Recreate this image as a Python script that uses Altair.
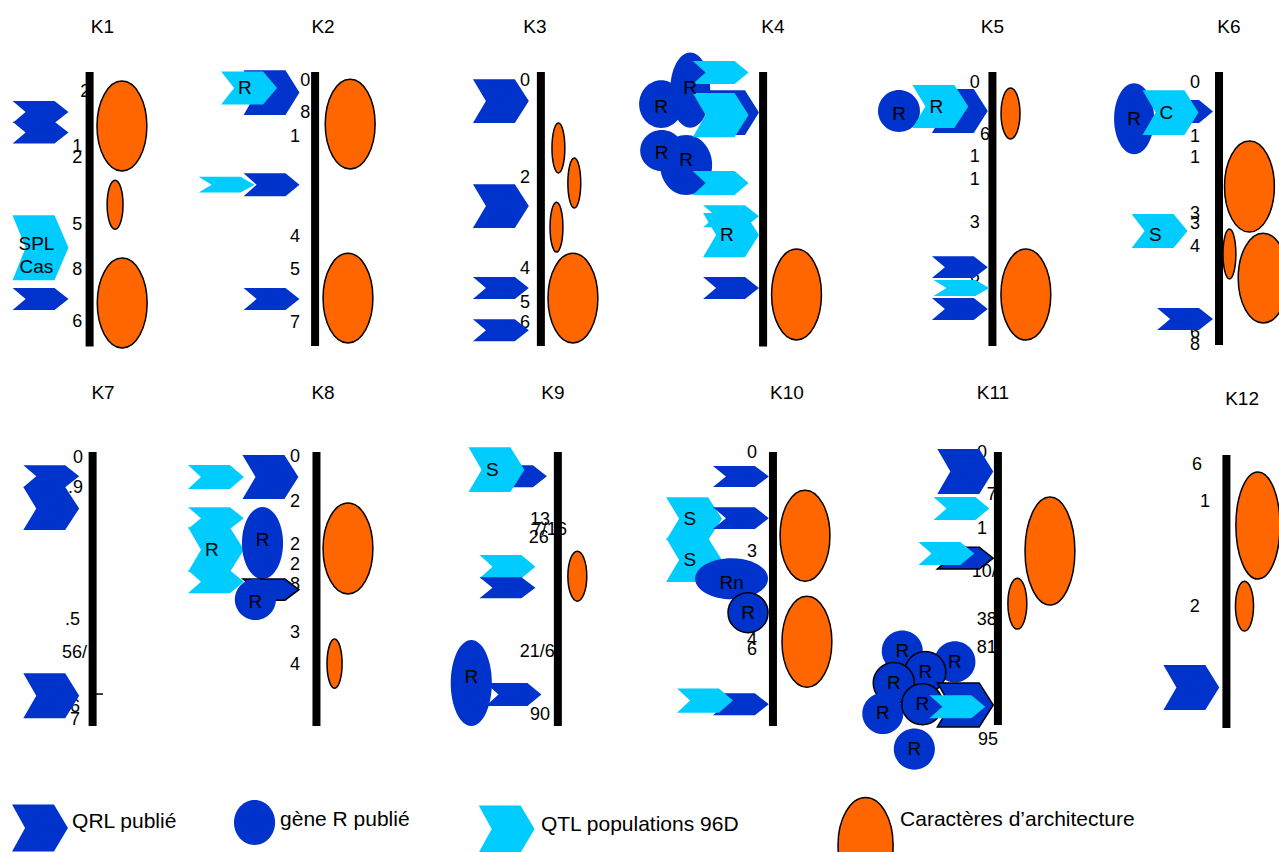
import altair as alt
import pandas as pd

# ---------------------------------------------------------------------------
# Map geometry: positions along a chromosome are in map units (0 = top of the
# bar, 100 = bottom); lateral placement uses the same unit.
# ---------------------------------------------------------------------------
PX = 2.74                      # screen pixels per map unit
CANVAS_W, CANVAS_H = 1279, 852
W_U, H_U = CANVAS_W / PX, CANVAS_H / PX

DARK = "#0033CC"     # QRL publié / gène R publié
LIGHT = "#00CCFF"    # QTL populations 96D
ORANGE = "#FF6600"   # caractères d'architecture
FONT = "Liberation Sans"

PANELS = [f"K{i}" for i in range(1, 13)]
PANEL_ROW = [0, 0, 0, 0, 0, 0, 1, 1, 1, 1, 1, 1]
BAR_X = [32.7, 115.0, 197.4, 278.5, 362.2, 444.9, 33.8, 115.5, 203.6, 282.1, 364.2, 447.6]
BAR_START = [0, 0, 0, 0, 0, 0, 0, 0, 0, 0, 0, 1.1]
BAR_END = [100.2, 100, 100, 100.2, 100, 99.6, 100, 100, 100, 100, 99.6, 100.7]
TITLE_DX = [4.7, 2.9, -2.2, 3.6, 0.0, 3.6, 3.8, 2.4, -1.8, 5.1, -1.8, 5.7]
TITLE_POS = [-16.4] * 6 + [-21.5] * 5 + [-19.3]
ROW_Y = [26.3, 165.0]

CHEVRON_W = 20.4


def feat(panel, kind, pos, dx, span, width=None, label="", outlined=False, label_dy=0.0):
    return dict(panel=panel, kind=kind, pos=pos, dx=dx, span=span,
                width=width, label=label, outlined=outlined, label_dy=label_dy)


# Features of each linkage group, listed in drawing order
FEATURES = [
    # K1
    feat("K1", "QRL", 14.6, -17.9, 8.0),
    feat("K1", "QRL", 22.1, -17.9, 8.0),
    feat("K1", "QTL", 64.1, -17.9, 23.7, label="SPL\nCas", label_dy=-1.5),
    feat("K1", "QRL", 82.8, -17.9, 8.0),
    feat("K1", "ARCH", 19.7, 11.8, 32.8, 18.2),
    feat("K1", "ARCH", 48.4, 9.3, 17.9, 5.8),
    feat("K1", "ARCH", 84.3, 11.9, 32.8, 18.2),
    # K2
    feat("K2", "QRL", 7.5, -15.9, 16.4),
    feat("K2", "QTL", 5.8, -24.1, 12.0, label="R"),
    feat("K2", "QRL", 41.1, -15.9, 8.4),
    feat("K2", "QTL", 41.1, -32.3, 5.8),
    feat("K2", "QRL", 82.8, -15.9, 8.0),
    feat("K2", "ARCH", 19.0, 12.8, 32.8, 18.2),
    feat("K2", "ARCH", 82.5, 12.0, 32.8, 18.2),
    # K3
    feat("K3", "QRL", 10.6, -14.6, 16.0),
    feat("K3", "QRL", 48.9, -14.6, 16.0),
    feat("K3", "QRL", 78.8, -14.6, 8.0),
    feat("K3", "QRL", 94.2, -14.6, 8.0),
    feat("K3", "ARCH", 27.7, 6.4, 18.2, 4.7),
    feat("K3", "ARCH", 40.5, 12.2, 18.2, 4.7),
    feat("K3", "ARCH", 56.6, 5.7, 18.2, 4.7),
    feat("K3", "ARCH", 82.5, 11.7, 32.8, 18.2),
    # K4
    feat("K4", "R", 6.6, -26.6, 27.4, 14.6, label="R", label_dy=-0.8),
    feat("K4", "R", 11.7, -37.2, 17.5, 16.1, label="R", label_dy=1.2),
    feat("K4", "R", 28.6, -37.0, 15.0, 15.7, label="R", label_dy=0.8),
    feat("K4", "R", 33.9, -28.1, 21.9, 19.0, label="R", label_dy=-1.8),
    feat("K4", "QTL", 0.2, -15.5, 8.4),
    feat("K4", "QRL", 14.8, -11.7, 16.4),
    feat("K4", "QTL", 15.7, -15.5, 16.1),
    feat("K4", "QTL", 40.5, -15.5, 8.8),
    feat("K4", "QTL", 52.6, -11.7, 8.0),
    feat("K4", "QTL", 59.5, -11.7, 16.1, label="R"),
    feat("K4", "QRL", 78.8, -11.7, 8.0),
    feat("K4", "ARCH", 81.2, 12.2, 33.2, 18.2),
    # K5
    feat("K5", "R", 14.2, -34.1, 15.3, 15.3, label="R", label_dy=1.2),
    feat("K5", "QRL", 14.2, -11.9, 16.1),
    feat("K5", "QTL", 12.6, -19.0, 15.7, label="R"),
    feat("K5", "ARCH", 15.1, 6.6, 18.6, 6.9),
    feat("K5", "QRL", 71.2, -11.9, 8.0),
    feat("K5", "QTL", 78.8, -11.3, 5.8),
    feat("K5", "QRL", 86.5, -11.9, 8.0),
    feat("K5", "ARCH", 81.2, 12.2, 33.2, 18.2),
    # K6
    feat("K6", "R", 17.0, -31.0, 25.9, 14.6, label="R"),
    feat("K6", "QRL", 14.4, -12.4, 8.4),
    feat("K6", "QTL", 14.8, -17.7, 16.4, label="C"),
    feat("K6", "QTL", 58.0, -21.7, 12.4, label="S", label_dy=1.4),
    feat("K6", "QRL", 90.1, -12.4, 8.0),
    feat("K6", "ARCH", 41.8, 11.1, 33.2, 18.2),
    feat("K6", "ARCH", 66.4, 3.8, 18.2, 4.7),
    feat("K6", "ARCH", 75.2, 16.1, 32.8, 18.2),
    # K7
    feat("K7", "QRL", 8.8, -15.1, 8.0),
    feat("K7", "QRL", 20.6, -15.1, 15.7),
    feat("K7", "QRL", 88.9, -15.1, 16.4),
    # K8
    feat("K8", "QTL", 9.1, -36.7, 8.8),
    feat("K8", "QRL", 9.1, -16.8, 16.1),
    feat("K8", "QTL", 24.1, -36.7, 8.0),
    feat("K8", "QTL", 35.6, -36.7, 16.4, label="R"),
    feat("K8", "QTL", 47.3, -36.7, 8.4),
    feat("K8", "R", 33.2, -19.7, 26.3, 15.0, label="R", label_dy=-1.0),
    feat("K8", "QRL", 50.2, -16.6, 7.7, outlined=True),
    feat("K8", "R", 53.8, -22.3, 15.0, 15.0, label="R", label_dy=1.0),
    feat("K8", "ARCH", 35.2, 11.5, 33.2, 18.2),
    feat("K8", "ARCH", 77.2, 6.6, 17.9, 5.5),
    # K9
    feat("K9", "QRL", 8.8, -14.2, 8.0),
    feat("K9", "QTL", 6.4, -22.4, 16.4, label="S"),
    feat("K9", "QTL", 41.8, -18.4, 8.4),
    feat("K9", "QRL", 49.5, -18.4, 7.7),
    feat("K9", "R", 84.3, -31.6, 31.4, 15.0, label="R", label_dy=-2.2),
    feat("K9", "QRL", 88.5, -16.2, 8.4),
    feat("K9", "ARCH", 45.3, 7.1, 18.2, 6.9),
    # K10
    feat("K10", "QRL", 8.9, -11.7, 7.7),
    feat("K10", "QTL", 24.3, -28.8, 15.7, label="S"),
    feat("K10", "QRL", 24.1, -11.7, 8.0),
    feat("K10", "QTL", 39.4, -28.8, 16.1, label="S"),
    feat("K10", "R", 46.2, -15.1, 15.0, 26.6, label="Rn", label_dy=1.6),
    feat("K10", "R", 58.6, -9.1, 14.6, 14.6, label="R", outlined=True),
    feat("K10", "QRL", 92.0, -11.7, 8.0),
    feat("K10", "QTL", 90.7, -24.8, 8.8),
    feat("K10", "ARCH", 30.5, 11.7, 33.2, 18.2),
    feat("K10", "ARCH", 69.2, 12.4, 33.2, 18.2),
    # K11
    feat("K11", "QRL", 7.1, -11.9, 16.4),
    feat("K11", "QTL", 20.6, -13.3, 8.4),
    feat("K11", "QRL", 38.7, -11.9, 8.0, outlined=True),
    feat("K11", "QTL", 37.0, -18.8, 8.4),
    feat("K11", "ARCH", 36.1, 19.0, 39.4, 18.2),
    feat("K11", "ARCH", 55.3, 7.1, 18.6, 6.9),
    feat("K11", "R", 72.6, -34.9, 15.0, 15.0, label="R"),
    feat("K11", "R", 76.5, -15.7, 15.0, 15.0, label="R"),
    feat("K11", "R", 80.3, -26.5, 15.0, 15.0, label="R", outlined=True),
    feat("K11", "R", 84.3, -38.0, 15.0, 15.0, label="R", outlined=True),
    feat("K11", "R", 95.4, -42.0, 15.0, 15.0, label="R"),
    feat("K11", "R", 92.0, -27.6, 15.0, 15.0, label="R", outlined=True),
    feat("K11", "R", 108.4, -30.5, 15.0, 15.0, label="R"),
    feat("K11", "QRL", 92.3, -11.9, 16.1, outlined=True),
    feat("K11", "QTL", 92.9, -14.8, 8.4),
    # K12
    feat("K12", "ARCH", 26.8, 11.5, 39.1, 16.1),
    feat("K12", "ARCH", 56.2, 6.6, 18.2, 6.6),
    feat("K12", "QRL", 85.9, -12.8, 16.4),
]

# Map position labels written beside each bar (text, position, right edge offset)
TICKS = {
    "K1": [("2", 7.2, 0.2), ("1", 27.5, -2.7), ("2", 31.5, -2.7), ("5", 55.8, -2.7),
           ("8", 72.3, -2.7), ("6", 91.1, -2.7)],
    "K2": [("0", 3.2, -1.8), ("8", 15.1, -1.8), ("1", 23.6, -5.5), ("4", 60.1, -5.5),
           ("5", 72.3, -5.5), ("7", 91.7, -5.5)],
    "K3": [("0", 3.2, -4.0), ("2", 38.8, -4.0), ("4", 72.0, -4.0), ("5", 84.2, -4.0),
           ("6", 91.7, -4.0)],
    "K4": [],
    "K5": [("0", 4.1, -4.6), ("6", 23.0, -0.9), ("1", 30.9, -4.6), ("1", 39.4, -4.6),
           ("3", 55.2, -4.6), ("6", 74.7, -4.6)],
    "K6": [("0", 4.0, -6.9), ("1", 23.6, -6.9), ("1", 31.4, -6.9), ("3", 51.8, -6.9),
           ("3", 55.5, -6.9), ("4", 63.8, -6.9), ("6", 95.3, -6.9), ("8", 99.6, -6.9)],
    "K7": [("0", 2.2, -3.5), (".9", 13.1, -3.5), (".5", 61.3, -4.6), ("56/", 73.4, -2.0),
           ("6", 93.1, -4.6), ("7", 97.8, -4.6)],
    "K8": [("0", 1.7, -6.0), ("2", 18.1, -6.0), ("2", 33.9, -6.0), ("2", 41.2, -6.0),
           ("8", 48.5, -6.0), ("3", 66.2, -6.0), ("4", 77.7, -6.0)],
    "K9": [("13", 24.8, -2.9), ("7/16", 28.5, 3.3), ("26", 31.5, -3.3), ("21/6", 72.9, -1.1),
           ("90", 96.0, -2.9)],
    "K10": [("0", 0.5, -5.8), ("3", 36.4, -5.8), ("4", 68.6, -5.8), ("6", 72.3, -5.8)],
    "K11": [("0", 0.5, -4.0), ("7", 15.7, -0.4), ("1", 27.9, -4.0), ("10/", 43.7, -0.4),
            ("38", 61.3, -0.4), ("81", 71.6, -0.4), ("95", 105.1, 0.0)],
    "K12": [("6", 4.7, -8.9), ("1", 18.1, -6.0), ("2", 56.5, -9.7)],
}

# Short marker line beside K7 (panel, position, end offset)
MARKER_LINES = [("K7", 88.3, 3.8)]

# Legend (kind, label, x, y of the symbol, width, span, text x, text y)
LEGEND = [
    ("QRL", "QRL publié", 14.6, 302.2, CHEVRON_W, 17.2, 26.3, 300.0),
    ("R", "gène R publié", 92.9, 300.2, 15.0, 16.4, 102.2, 299.3),
    ("QTL", "QTL populations 96D", 184.9, 302.6, CHEVRON_W, 17.2, 197.4, 301.1),
    ("ARCH", "Caractères d’architecture", 315.9, 308.4, 20.1, 34.7, 328.5, 299.3),
]


# ---------------------------------------------------------------------------
# Symbol outlines (normalised to a half-width of 1, as Vega scales paths)
# ---------------------------------------------------------------------------
def chevron_path(w_px, h_px, tip_px=14.0, notch_px=13.0):
    a = w_px / 2.0
    hh = h_px / 2.0 / a
    t = 1 - tip_px / a
    n = -1 + notch_px / a
    return (f"M-1,{-hh:.4f}L{t:.4f},{-hh:.4f}L1,0L{t:.4f},{hh:.4f}"
            f"L-1,{hh:.4f}L{n:.4f},0Z")


def ellipse_path(w_px, h_px):
    r = h_px / w_px
    k = 0.5523
    return (f"M-1,0C-1,{-k * r:.4f} {-k:.4f},{-r:.4f} 0,{-r:.4f}"
            f"C{k:.4f},{-r:.4f} 1,{-k * r:.4f} 1,0"
            f"C1,{k * r:.4f} {k:.4f},{r:.4f} 0,{r:.4f}"
            f"C{-k:.4f},{r:.4f} -1,{k * r:.4f} -1,0Z")


FILL = {"QRL": DARK, "QTL": LIGHT, "R": DARK, "ARCH": ORANGE}


def symbol_row(kind, x, y, width, span, outlined, z):
    w_px = (width if width is not None else CHEVRON_W) * PX
    h_px = span * PX
    if kind in ("QRL", "QTL"):
        path = chevron_path(w_px, h_px)
    else:
        path = ellipse_path(w_px, h_px)
    stroked = outlined or kind == "ARCH"
    return dict(x=x, y=y, path=path, size=w_px ** 2, fill=FILL[kind],
                stroke="#000000", sw=1.5 if stroked else 0.0, z=z)


shape_rows, label_rows = [], []
for z, f in enumerate(FEATURES):
    i = PANELS.index(f["panel"])
    x = BAR_X[i] + f["dx"]
    y = ROW_Y[PANEL_ROW[i]] + f["pos"]
    shape_rows.append(symbol_row(f["kind"], x, y, f["width"], f["span"], f["outlined"], z))
    if f["label"]:
        lx = x - 1.5 if f["kind"] in ("QRL", "QTL") else x
        label_rows.append(dict(x=lx, y=y + f["label_dy"], text=f["label"]))

for j, (kind, _, lx, ly, w, span, _, _) in enumerate(LEGEND):
    shape_rows.append(symbol_row(kind, lx, ly, w, span, False, len(FEATURES) + j))

shapes = pd.DataFrame(shape_rows)
labels = pd.DataFrame(label_rows)

bars = pd.DataFrame([
    dict(x=BAR_X[i], y=ROW_Y[PANEL_ROW[i]] + BAR_START[i], y2=ROW_Y[PANEL_ROW[i]] + BAR_END[i])
    for i in range(len(PANELS))
])
titles = pd.DataFrame([
    dict(x=BAR_X[i] + TITLE_DX[i], y=ROW_Y[PANEL_ROW[i]] + TITLE_POS[i], text=PANELS[i])
    for i in range(len(PANELS))
])
ticks = pd.DataFrame([
    dict(x=BAR_X[PANELS.index(p)] + dx, y=ROW_Y[PANEL_ROW[PANELS.index(p)]] + pos, text=t)
    for p, items in TICKS.items() for (t, pos, dx) in items
])
markers = pd.DataFrame([
    dict(x=BAR_X[PANELS.index(p)], x2=BAR_X[PANELS.index(p)] + end,
         y=ROW_Y[PANEL_ROW[PANELS.index(p)]] + pos)
    for p, pos, end in MARKER_LINES
])
legend_text = pd.DataFrame([dict(x=tx, y=ty, text=lab) for (_, lab, _, _, _, _, tx, ty) in LEGEND])

xs = alt.Scale(domain=[0, W_U], nice=False, zero=False)
ys = alt.Scale(domain=[0, H_U], nice=False, zero=False, reverse=True)
X = alt.X("x:Q", scale=xs, axis=None)
Y = alt.Y("y:Q", scale=ys, axis=None)

tick_layer = alt.Chart(ticks).mark_text(
    font=FONT, fontSize=18, align="right", baseline="middle", color="black"
).encode(x=X, y=Y, text="text:N")

bar_layer = alt.Chart(bars).mark_rule(strokeWidth=8, color="black").encode(
    x=X, y=Y, y2="y2:Q")

marker_layer = alt.Chart(markers).mark_rule(strokeWidth=1.5, color="black").encode(
    x=X, x2="x2:Q", y=Y)

shape_layer = alt.Chart(shapes).mark_point(filled=True, opacity=1).encode(
    x=X, y=Y,
    shape=alt.Shape("path:N", scale=None),
    size=alt.Size("size:Q", scale=None),
    fill=alt.Fill("fill:N", scale=None),
    stroke=alt.Stroke("stroke:N", scale=None),
    strokeWidth=alt.StrokeWidth("sw:Q", scale=None),
    order=alt.Order("z:Q"),
)

label_layer = alt.Chart(labels).mark_text(
    font=FONT, fontSize=19, align="center", baseline="middle", color="black",
    lineBreak="\n", lineHeight=23
).encode(x=X, y=Y, text="text:N")

title_layer = alt.Chart(titles).mark_text(
    font=FONT, fontSize=19, align="center", baseline="middle", color="black"
).encode(x=X, y=Y, text="text:N")

legend_layer = alt.Chart(legend_text).mark_text(
    font=FONT, fontSize=21, align="left", baseline="middle", color="black"
).encode(x=X, y=Y, text="text:N")

chart = alt.layer(
    tick_layer, bar_layer, marker_layer, shape_layer, label_layer, title_layer, legend_layer
).properties(
    width=CANVAS_W, height=CANVAS_H, padding=0,
    autosize=alt.AutoSizeParams(type="none"),
    background="white",
).configure_view(strokeWidth=0)

chart.save("out.html", embed_options={"renderer": "svg", "actions": False})
